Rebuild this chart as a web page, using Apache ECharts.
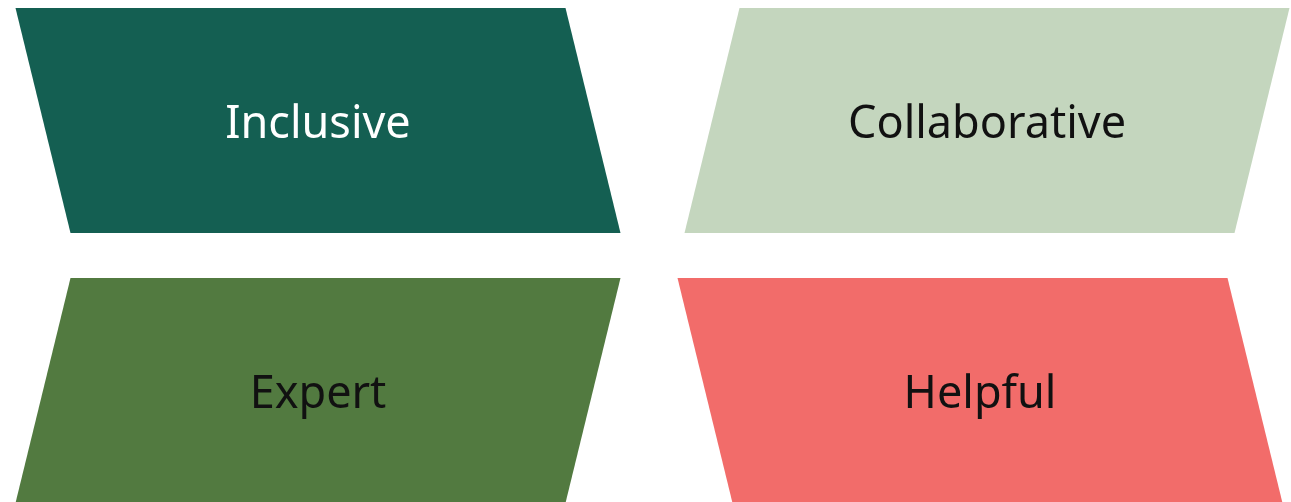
<!DOCTYPE html>
<html>
<head>
<meta charset="utf-8">
<script src="https://cdn.jsdelivr.net/npm/echarts@6/dist/echarts.min.js"></script>
<style>
html,body{margin:0;padding:0;background:#fff;}
#chart{width:1291px;height:502px;}
</style>
</head>
<body>
<div id="chart"></div>
<script>
// Data
var labels = ['Inclusive', 'Collaborative', 'Expert', 'Helpful'];
var cols = [0, 1, 0, 1];
var rows = [0, 0, 1, 1];
var fills = ['#145F52', '#C4D6BE', '#527A40', '#F26C6A'];
var textColors = ['#ffffff', '#111111', '#111111', '#111111'];

var data = labels.map(function (l, i) { return [cols[i], rows[i], l]; });

var chart = echarts.init(document.getElementById('chart'), null, {renderer: 'canvas'});
var W = 550, H = 225, S = 55;
chart.setOption({
  animation: false,
  grid: {left: 318, right: 307.5, top: 120.5, bottom: 111.5},
  xAxis: {type: 'value', min: 0, max: 1, show: false},
  yAxis: {type: 'value', min: 0, max: 1, inverse: true, show: false},
  series: [{
    type: 'custom',
    data: data,
    renderItem: function (params, api) {
      var i = params.dataIndex;
      var c = api.coord([api.value(0), api.value(1)]);
      var lean = (cols[i] + rows[i]) % 2 === 0 ? -1 : 1; // -1: top shifted left
      var cx = c[0] + lean * 3.5 * api.value(0), cy = c[1];
      var ht = S / 2 * lean;
      var pts = [
        [cx - W / 2 + ht, cy - H / 2],
        [cx + W / 2 + ht, cy - H / 2],
        [cx + W / 2 - ht, cy + H / 2],
        [cx - W / 2 - ht, cy + H / 2]
      ];
      return {
        type: 'group',
        children: [{
          type: 'polygon',
          shape: {points: pts},
          style: {fill: fills[i]}
        }, {
          type: 'text',
          x: cx, y: cy + 4.5,
          style: {
            text: labels[i],
            fill: textColors[i],
            font: '45px "Noto Sans"',
            align: 'center',
            verticalAlign: 'middle'
          }
        }]
      };
    }
  }]
});
</script>
</body>
</html>
